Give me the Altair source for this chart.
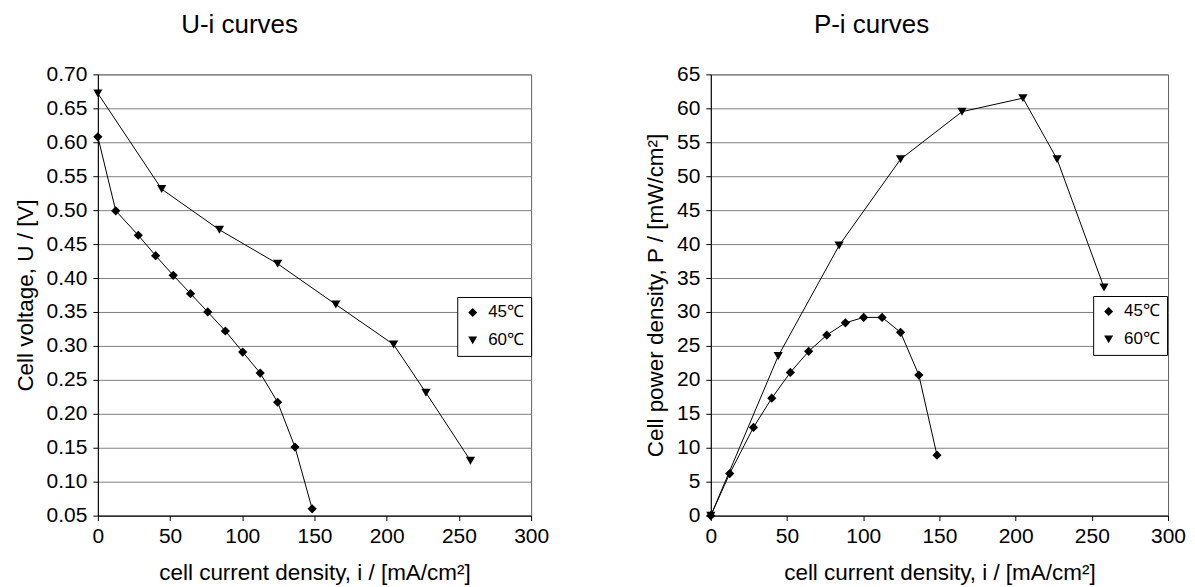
import altair as alt
import pandas as pd

# ---- data ----
series = ["45℃", "60℃"]
i45 = [0.0, 12.4, 28.0, 40.0, 52.2, 64.2, 76.1, 88.3, 100.3, 112.4, 124.5, 136.5, 148.4]
u45 = [0.608, 0.499, 0.463, 0.433, 0.404, 0.377, 0.350, 0.322, 0.291, 0.260, 0.217, 0.151, 0.060]
p45 = [0.0, 6.2, 13.0, 17.3, 21.1, 24.2, 26.6, 28.4, 29.2, 29.2, 27.0, 20.7, 8.9]
i60 = [0.0, 44.2, 84.2, 124.5, 164.8, 204.8, 227.2, 258.0]
u60 = [0.672, 0.531, 0.471, 0.421, 0.361, 0.302, 0.231, 0.131]
p60 = [0.0, 23.5, 39.8, 52.5, 59.5, 61.5, 52.5, 33.6]

x_ticks = [0, 50, 100, 150, 200, 250, 300]
u_ticks = [0.05, 0.10, 0.15, 0.20, 0.25, 0.30, 0.35, 0.40, 0.45, 0.50, 0.55, 0.60, 0.65, 0.70]
p_ticks = [0, 5, 10, 15, 20, 25, 30, 35, 40, 45, 50, 55, 60, 65]

rows = []
for k, (a, b) in enumerate(zip(i45, u45)):
    rows.append({"series": series[0], "idx": k, "i": a, "U": b, "P": p45[k]})
for k, (a, b) in enumerate(zip(i60, u60)):
    rows.append({"series": series[1], "idx": k, "i": a, "U": b, "P": p60[k]})
df = pd.DataFrame(rows)

FONT = "Liberation Sans"


def panel(ycol, ytitle, ydomain, yticks, yfmt, title, width, lx, ly, tdx, ytp):
    x = alt.X("i:Q", scale=alt.Scale(domain=[0, 300], nice=False),
              axis=alt.Axis(values=x_ticks, grid=False, format="d", labelFlush=False,
                            title="cell current density, i / [mA/cm²]",
                            labelPadding=5, titlePadding=15))
    y = alt.Y(f"{ycol}:Q", scale=alt.Scale(domain=ydomain, nice=False, zero=False),
              axis=alt.Axis(values=yticks, format=yfmt, grid=True, title=ytitle,
                            labelFlush=False, labelPadding=6, titlePadding=ytp))
    base = alt.Chart(df)
    line = base.mark_line(color="black", strokeWidth=1).encode(
        x=x, y=y, detail="series:N", order="idx:Q")
    pts = base.mark_point(filled=True, color="black", opacity=1, strokeWidth=0,
                          size=85).encode(
        x=x, y=y,
        shape=alt.Shape("series:N",
                        scale=alt.Scale(domain=series, range=["diamond", "triangle-down"]),
                        legend=alt.Legend(title=None, orient="none", legendX=lx, legendY=ly,
                                          fillColor="white", strokeColor="black",
                                          padding=7, rowPadding=10, symbolSize=80,
                                          labelOffset=7,
                                          symbolFillColor="black", symbolStrokeColor="black",
                                          symbolStrokeWidth=0,
                                          labelFont=FONT, labelFontSize=17, labelColor="black")))
    return alt.layer(line, pts).properties(
        width=width, height=442,
        title=alt.TitleParams(title, font=FONT, fontSize=26, fontWeight="normal",
                              color="black", anchor="middle", dx=tdx, offset=25))


left = panel("U", "Cell voltage, U / [V]", [0.05, 0.70], u_ticks, ".2f",
             "U-i curves", 434, 360, 223, -75, 9)
right = panel("P", "Cell power density, P / [mW/cm²]", [0, 65], p_ticks, "d",
              "P-i curves", 458, 383, 222, -68, 9)

chart = alt.hconcat(left, right, spacing=94).resolve_scale(
    shape="independent").resolve_legend(shape="independent").properties(
    padding={"left": 5, "top": 3, "right": 0, "bottom": 0}
).configure(
    background="white"
).configure_axis(
    labelFont=FONT, labelFontSize=21, labelColor="black",
    titleFont=FONT, titleFontSize=22.5, titleFontWeight="normal", titleColor="black",
    domainColor="black", tickColor="black", tickSize=5,
    gridColor="#808080", gridWidth=1
).configure_view(stroke="#606060", strokeWidth=1)

chart.save("out.html", embed_options={"renderer": "svg", "actions": False})
